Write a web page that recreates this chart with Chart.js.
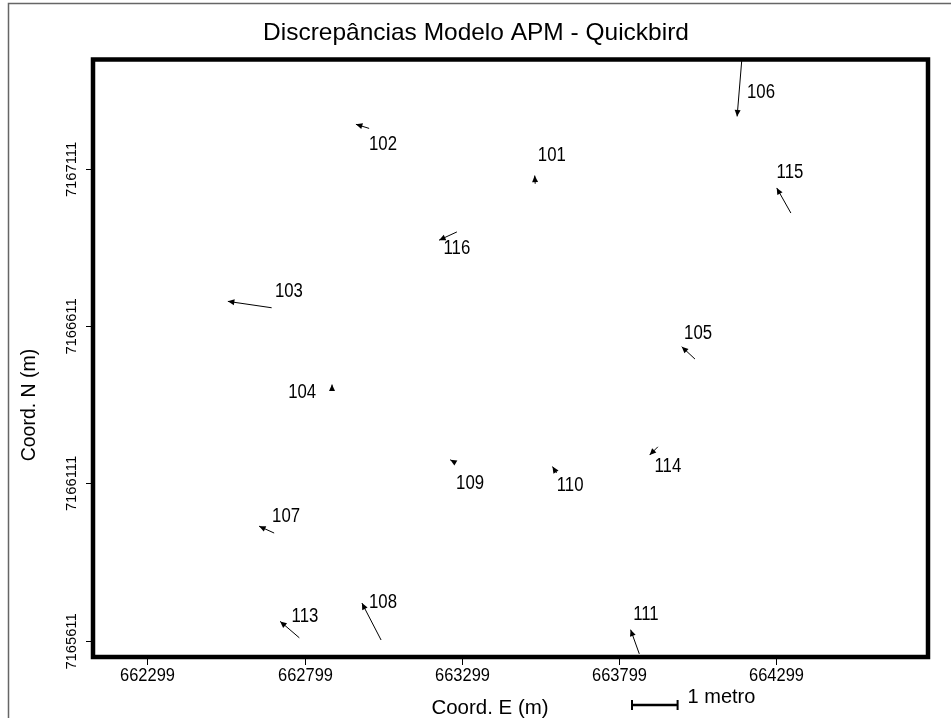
<!DOCTYPE html>
<html>
<head>
<meta charset="utf-8">
<script src="https://cdn.jsdelivr.net/npm/chart.js@4"></script>
<style>
  html, body { margin: 0; padding: 0; background: #fff; }
</style>
</head>
<body>
<canvas id="chart" width="951" height="718"></canvas>
<script>
// station points (UTM, m) and their discrepancies (m)
const stations = ["101", "102", "103", "104", "105", "106", "107", "108", "109", "110", "111", "113", "114", "115", "116"];
const stationE = [663532, 663004, 662694, 662886, 664040, 664190, 662702, 663042, 663272, 663600, 663863, 662782, 663922, 664345, 663283];
const stationN = [7167063, 7167239, 7166669, 7166406, 7166506, 7167470, 7165953, 7165613, 7166180, 7166144, 7165569, 7165620, 7166227, 7166970, 7166910];
const discE = [-0.01, -0.29, -0.96, 0.00, -0.29, -0.11, -0.33, -0.42, -0.07, -0.09, -0.19, -0.42, -0.18, -0.31, -0.39];
const discN = [0.18, 0.09, 0.14, 0.13, 0.27, -1.33, 0.15, 0.81, 0.04, 0.14, 0.53, 0.36, -0.18, 0.55, -0.18];
// where each station number is written
const labelE = [663585, 663048, 662749, 662791, 664050, 664250, 662740, 663048, 663325, 663643, 663884, 662800, 663954, 664342, 663283];
const labelN = [7167152, 7167187, 7166719, 7166398, 7166586, 7167352, 7166004, 7165731, 7166109, 7166103, 7165693, 7165686, 7166163, 7167098, 7166856];

const xTicks = [662299, 662799, 663299, 663799, 664299];
const yTicks = [7165611, 7166111, 7166611, 7167111];
const vectorScale = 145; // map metres drawn for 1 m of discrepancy

const FONT = '"Liberation Sans", Arial, sans-serif';

function text(ctx, str, x, y, size, sx, align, rot) {
  ctx.save();
  ctx.translate(x, y);
  if (rot) ctx.rotate(rot);
  ctx.scale(sx, 1);
  ctx.font = size + "px " + FONT;
  ctx.fillStyle = "#000";
  ctx.textAlign = align || "center";
  ctx.textBaseline = "middle";
  ctx.fillText(str, 0, 0);
  ctx.restore();
}

const datasets = stations.map((s, i) => ({
  label: s,
  data: [
    { x: stationE[i], y: stationN[i] },
    { x: stationE[i] + discE[i] * vectorScale, y: stationN[i] + discN[i] * vectorScale }
  ],
  showLine: true,
  borderColor: "#000",
  borderWidth: 1,
  pointRadius: 0
}));

const decor = {
  id: "decor",
  beforeDraw(chart) {
    const ctx = chart.ctx;
    ctx.save();
    ctx.fillStyle = "#fff";
    ctx.fillRect(0, 0, chart.width, chart.height);
    ctx.restore();
  },
  afterDatasetsDraw(chart) {
    const { ctx, chartArea: a, scales: { x, y } } = chart;
    ctx.save();

    // arrow heads
    ctx.fillStyle = "#000";
    stations.forEach((s, i) => {
      const x0 = x.getPixelForValue(stationE[i]), y0 = y.getPixelForValue(stationN[i]);
      const x1 = x.getPixelForValue(stationE[i] + discE[i] * vectorScale);
      const y1 = y.getPixelForValue(stationN[i] + discN[i] * vectorScale);
      const ang = Math.atan2(y1 - y0, x1 - x0);
      const L = 6.5, W = 3;
      ctx.beginPath();
      ctx.moveTo(x1, y1);
      ctx.lineTo(x1 - L * Math.cos(ang) + W * Math.sin(ang), y1 - L * Math.sin(ang) - W * Math.cos(ang));
      ctx.lineTo(x1 - L * Math.cos(ang) - W * Math.sin(ang), y1 - L * Math.sin(ang) + W * Math.cos(ang));
      ctx.closePath();
      ctx.fill();
    });

    // station numbers
    stations.forEach((s, i) => {
      text(ctx, s, x.getPixelForValue(labelE[i]), y.getPixelForValue(labelN[i]), 19.5, 0.86);
    });

    // plot frame
    ctx.strokeStyle = "#000";
    ctx.lineWidth = 4.5;
    ctx.strokeRect(a.left, a.top, a.right - a.left, a.bottom - a.top);

    // ticks
    ctx.lineWidth = 1;
    xTicks.forEach(v => {
      const px = Math.round(x.getPixelForValue(v)) + 0.5;
      ctx.beginPath();
      ctx.moveTo(px, a.bottom + 2);
      ctx.lineTo(px, a.bottom + 8);
      ctx.stroke();
      text(ctx, String(v), px, a.bottom + 19, 17.5, 0.94);
    });
    yTicks.forEach(v => {
      const py = Math.round(y.getPixelForValue(v)) + 0.5;
      ctx.beginPath();
      ctx.moveTo(a.left - 2, py);
      ctx.lineTo(a.left - 7, py);
      ctx.stroke();
      text(ctx, String(v), a.left - 21, py, 15.5, 0.95, "center", -Math.PI / 2);
    });

    // titles
    text(ctx, "Discrepâncias Modelo APM - Quickbird", 476, 33, 24, 1.02);
    text(ctx, "Coord. E (m)", 490, 709, 19.5, 1.05);
    text(ctx, "Coord. N (m)", 30, 405, 19.5, 1.0, "center", -Math.PI / 2);

    // scale bar: 1 m of discrepancy
    const bx = 632, by = 705;
    const blen = x.getPixelForValue(xTicks[0] + vectorScale) - x.getPixelForValue(xTicks[0]);
    ctx.lineWidth = 2.5;
    ctx.beginPath();
    ctx.moveTo(bx, by);
    ctx.lineTo(bx + blen, by);
    ctx.stroke();
    ctx.lineWidth = 2;
    ctx.beginPath();
    ctx.moveTo(bx, by - 5);
    ctx.lineTo(bx, by + 5);
    ctx.moveTo(bx + blen, by - 5);
    ctx.lineTo(bx + blen, by + 5);
    ctx.stroke();
    text(ctx, "1 metro", bx + blen + 10, 697, 20, 1.0, "left");

    // outer frame (top and left edges visible)
    ctx.strokeStyle = "#666";
    ctx.lineWidth = 1.5;
    ctx.beginPath();
    ctx.moveTo(8.5, 718);
    ctx.lineTo(8.5, 3.5);
    ctx.lineTo(951, 3.5);
    ctx.stroke();

    ctx.restore();
  }
};

new Chart(document.getElementById("chart"), {
  type: "scatter",
  data: { datasets },
  options: {
    responsive: false,
    animation: false,
    devicePixelRatio: 1,
    layout: { padding: { left: 93, top: 59.5, right: 23, bottom: 61 } },
    scales: {
      x: { type: "linear", min: 662126, max: 664781, display: false },
      y: { type: "linear", min: 7165559, max: 7167458, display: false }
    },
    plugins: {
      legend: { display: false },
      tooltip: { enabled: false },
      title: { display: false }
    }
  },
  plugins: [decor]
});
</script>
</body>
</html>
